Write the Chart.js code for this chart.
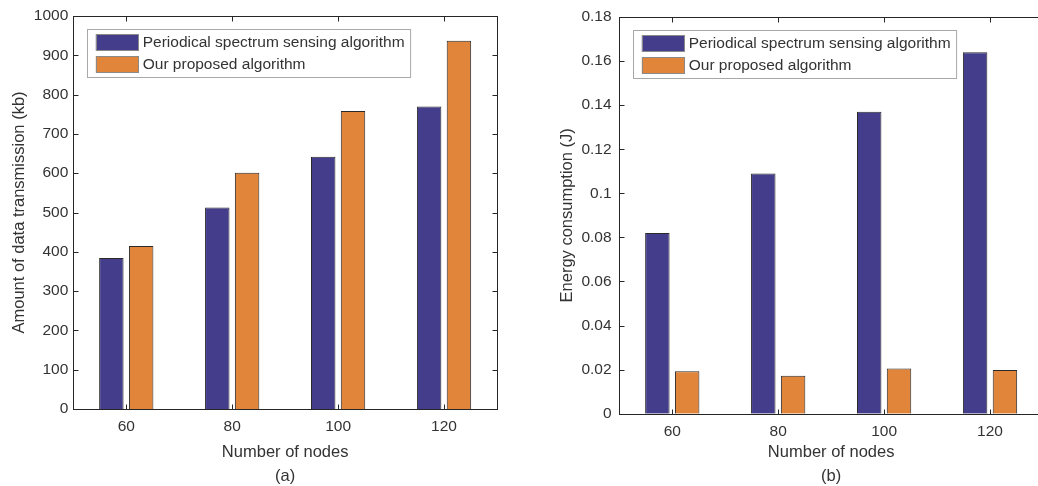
<!DOCTYPE html>
<html>
<head>
<meta charset="utf-8">
<script src="https://cdn.jsdelivr.net/npm/chart.js@4/dist/chart.umd.min.js"></script>
<style>
  html, body { margin:0; padding:0; background:#fff; width:1038px; height:486px; overflow:hidden; position:relative; }
  canvas { position:absolute; top:0; }
  #c1 { left:0; }
  #c2 { left:519px; }
</style>
</head>
<body>
<canvas id="c1" width="519" height="486"></canvas>
<canvas id="c2" width="546" height="486"></canvas>
<script>
// ---- data ----
const nodes = ['60', '80', '100', '120'];
const seriesNames = ['Periodical spectrum sensing algorithm', 'Our proposed algorithm'];
const dataPeriodic = [384, 513, 642, 770];
const dataProposed = [415, 601, 758, 937];
const energyPeriodic = [0.082, 0.109, 0.137, 0.164];
const energyProposed = [0.0193, 0.0172, 0.0205, 0.0198];
const leftTickValues = [0, 100, 200, 300, 400, 500, 600, 700, 800, 900, 1000];
const leftTickLabels = ['0', '100', '200', '300', '400', '500', '600', '700', '800', '900', '1000'];
const rightTickValues = [0, 0.02, 0.04, 0.06, 0.08, 0.1, 0.12, 0.14, 0.16, 0.18];
const rightTickLabels = ['0', '0.02', '0.04', '0.06', '0.08', '0.1', '0.12', '0.14', '0.16', '0.18'];

const PURPLE = '#443d8b';
const ORANGE = '#e08539';
const TEXT = '#333333';
const AXIS = '#262626';
const FONT = "'Liberation Sans', Arial, sans-serif";

const framePlugin = {
  id: 'frame',
  afterDatasetsDraw(chart) {
    const { ctx, chartArea: { left, right, top, bottom }, scales: { x, y } } = chart;
    ctx.save();
    ctx.strokeStyle = AXIS;
    ctx.lineWidth = 1;
    const L = Math.round(left) + 0.5, R = Math.round(right) + 0.5;
    const T = Math.round(top) + 0.5, B = Math.round(bottom) + 0.5;
    ctx.strokeRect(L, T, R - L, B - T);
    const tl = 5;
    ctx.beginPath();
    x.ticks.forEach((t, i) => {
      const px = Math.round(x.getPixelForTick(i)) + 0.5;
      ctx.moveTo(px, B); ctx.lineTo(px, B - tl);
      ctx.moveTo(px, T); ctx.lineTo(px, T + tl);
    });
    y.ticks.forEach((t, i) => {
      const py = Math.round(y.getPixelForTick(i)) + 0.5;
      ctx.moveTo(L, py); ctx.lineTo(L + tl, py);
      ctx.moveTo(R, py); ctx.lineTo(R - tl, py);
    });
    ctx.stroke();
    ctx.restore();
  }
};

const legendPlugin = {
  id: 'boxLegend',
  afterDraw(chart) {
    const { ctx, chartArea: { left, top } } = chart;
    const ds = chart.data.datasets;
    ctx.save();
    ctx.font = '15.5px ' + FONT;
    const textW = Math.max(...ds.map(d => ctx.measureText(d.label).width));
    const bx = Math.round(left + 13.4) + 0.5, by = Math.round(top + 13.3) + 0.5;
    const bw = 8.3 + 42.3 + 4.6 + textW + 6, bh = 48;
    ctx.fillStyle = '#ffffff';
    ctx.fillRect(bx, by, bw, bh);
    ctx.strokeStyle = '#a8a8a8';
    ctx.lineWidth = 1;
    ctx.strokeRect(bx, by, bw, bh);
    ds.forEach((d, i) => {
      const sy = by + 4.7 + i * 22;
      ctx.fillStyle = d.backgroundColor;
      ctx.fillRect(bx + 8.3, sy, 42.3, 16.5);
      ctx.strokeStyle = '#8a8a8a';
      ctx.strokeRect(Math.round(bx + 8.3) + 0.5, Math.round(sy) + 0.5, 42, 16);
      ctx.fillStyle = TEXT;
      ctx.textBaseline = 'middle';
      ctx.textAlign = 'left';
      ctx.fillText(d.label, bx + 55.2, sy + 8.5);
    });
    ctx.restore();
  }
};

function makeChart(id, a, b, tickValues, tickLabels, yMax, yTitle, sub, yWidth, xHeight, yTitlePad, yTickPad) {
  return new Chart(document.getElementById(id), {
    type: 'bar',
    data: {
      labels: nodes,
      datasets: [
        { label: seriesNames[0], data: a, backgroundColor: PURPLE, borderColor: '#2a2a2a', borderWidth: 1 },
        { label: seriesNames[1], data: b, backgroundColor: ORANGE, borderColor: '#2a2a2a', borderWidth: 1 }
      ]
    },
    options: {
      responsive: false,
      animation: false,
      devicePixelRatio: 1,
      layout: { padding: { left: 0, right: 22, top: 16, bottom: 0 } },
      datasets: { bar: { categoryPercentage: 0.563, barPercentage: 0.82 } },
      plugins: { legend: { display: false }, tooltip: { enabled: false } },
      scales: {
        x: {
          offset: true,
          grid: { display: false, drawTicks: false },
          border: { display: false },
          ticks: { color: TEXT, font: { family: FONT, size: 15.5 }, padding: 8.5, maxRotation: 0 },
          title: { display: true, text: ['Number of nodes', sub], color: TEXT,
                   font: { family: FONT, size: 16.5, lineHeight: 24 / 16.5 }, padding: { top: 0, bottom: -2 } },
          afterFit(s) { s.height = xHeight; }
        },
        y: {
          min: 0, max: yMax,
          grid: { display: false, drawTicks: false },
          border: { display: false },
          afterBuildTicks(s) { s.ticks = tickValues.map(v => ({ value: v })); },
          ticks: { color: TEXT, font: { family: FONT, size: 15.5 }, padding: yTickPad,
                   callback: (v, i) => tickLabels[i] },
          title: { display: true, text: yTitle, color: TEXT,
                   font: { family: FONT, size: 16.5, lineHeight: 1.2 }, padding: { top: yTitlePad, bottom: 0 } },
          afterFit(s) { s.width = yWidth; }
        }
      }
    },
    plugins: [framePlugin, legendPlugin]
  });
}

makeChart('c1', dataPeriodic, dataProposed, leftTickValues, leftTickLabels, 1000,
  'Amount of data transmission (kb)', '(a)', 73.3, 77, 9.1, 5);
makeChart('c2', energyPeriodic, energyProposed, rightTickValues, rightTickLabels, 0.18,
  'Energy consumption (J)', '(b)', 100.3, 72.3, 38.6, 7.7);
</script>
</body>
</html>
